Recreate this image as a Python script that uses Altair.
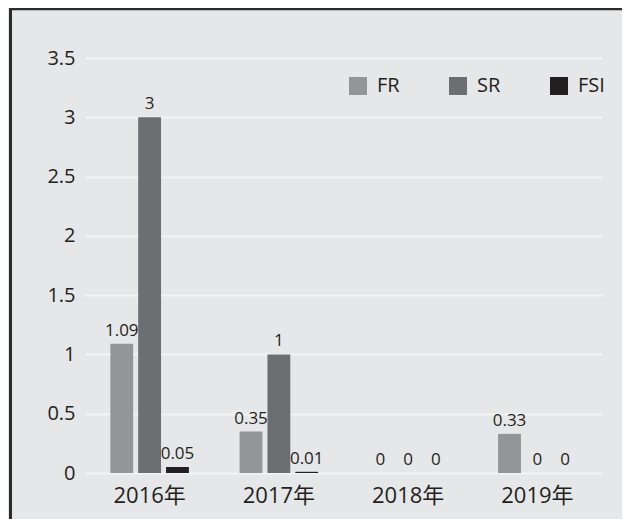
import altair as alt
import pandas as pd

years = ["2016年", "2017年", "2018年", "2019年"]
series = ["FR", "SR", "FSI"]
fr = [1.09, 0.35, 0, 0.33]
sr = [3, 1, 0, 0]
fsi = [0.05, 0.01, 0, 0]
colors = ["#939598", "#6d6e71", "#231f20"]
y_ticks = [0, 0.5, 1, 1.5, 2, 2.5, 3, 3.5]

rows = []
for s, vals in zip(series, [fr, sr, fsi]):
    for y, v in zip(years, vals):
        rows.append({"year": y, "series": s, "value": v, "label": f"{v:g}"})
df = pd.DataFrame(rows)

FONT = "Open Sans, Noto Sans CJK TC"
TXT = "#231f20"

x_enc = alt.X("year:N", sort=years, title=None,
              scale=alt.Scale(paddingInner=0, paddingOuter=0),
              axis=alt.Axis(labelAngle=0, labelFontSize=22, labelFont=FONT,
                            labelColor=TXT, domain=False, ticks=False,
                            labelPadding=12))
xo_enc = alt.XOffset("series:N", sort=series,
                     scale=alt.Scale(paddingInner=0.18, paddingOuter=0.91))
y_enc = alt.Y("value:Q", title=None,
              scale=alt.Scale(domain=[0, 3.5], nice=False),
              axis=alt.Axis(values=y_ticks, labelExpr="datum.value",
                            labelFontSize=20, labelFont=FONT, labelColor=TXT,
                            domain=False, ticks=False, labelPadding=10,
                            grid=True, gridColor="#f4f4f5", gridWidth=2))

bars = alt.Chart(df).mark_bar().encode(
    x=x_enc, xOffset=xo_enc, y=y_enc,
    color=alt.Color("series:N", sort=series,
                    scale=alt.Scale(domain=series, range=colors),
                    legend=alt.Legend(title=None, orient="none",
                                      legendX=263, legendY=18,
                                      direction="horizontal", columns=3,
                                      symbolType="square", symbolSize=324,
                                      symbolStrokeWidth=0, labelFontSize=20,
                                      labelFont=FONT, labelColor=TXT,
                                      labelOffset=9, columnPadding=48,
                                      padding=0)),
)

labels = alt.Chart(df).mark_text(baseline="bottom", dy=-4, fontSize=17,
                                 font=FONT, color=TXT).encode(
    x=alt.X("year:N", sort=years), xOffset=alt.XOffset("series:N", sort=series),
    y=alt.Y("value:Q"), text=alt.Text("label:N"),
)

frame_df = pd.DataFrame({"k": [0]})
left_border = alt.Chart(frame_df).mark_rule(color="#2b2b2b", strokeWidth=3).encode(
    x=alt.value(-74.5), y=alt.value(-50), y2=alt.value(470))
top_border = alt.Chart(frame_df).mark_rule(color="#2b2b2b", strokeWidth=2.5).encode(
    y=alt.value(-49), x=alt.value(-76), x2=alt.value(540))

chart = alt.layer(bars, labels, left_border, top_border).properties(
    width=517, height=415,
    padding={"left": 77, "top": 50, "right": 20, "bottom": 46},
    autosize=alt.AutoSizeParams(type="none"),
    background="#e6e7e8",
).configure_view(stroke=None)

chart.save("out.html", embed_options={"renderer": "svg", "actions": False})
